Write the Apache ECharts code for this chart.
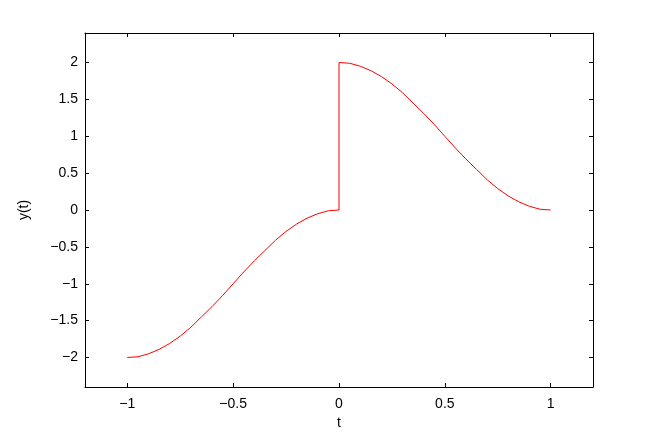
<!DOCTYPE html>
<html>
<head>
<meta charset="utf-8">
<script src="https://cdn.jsdelivr.net/npm/echarts@6/dist/echarts.min.js"></script>
<style>
  html, body { margin: 0; padding: 0; background: #fff; }
  #chart { width: 654px; height: 436px; }
</style>
</head>
<body>
<div id="chart"></div>
<script>
  // values
  var tLeft = [-1, -0.95, -0.9, -0.85, -0.8, -0.75, -0.7, -0.65, -0.6, -0.55, -0.5,
               -0.45, -0.4, -0.35, -0.3, -0.25, -0.2, -0.15, -0.1, -0.05, 0];
  var yLeft = [-2, -1.99, -1.95, -1.89, -1.81, -1.71, -1.59, -1.45, -1.31, -1.16, -1.0,
               -0.84, -0.69, -0.55, -0.41, -0.29, -0.19, -0.11, -0.05, -0.01, 0];
  var tRight = [0, 0.05, 0.1, 0.15, 0.2, 0.25, 0.3, 0.35, 0.4, 0.45, 0.5,
                0.55, 0.6, 0.65, 0.7, 0.75, 0.8, 0.85, 0.9, 0.95, 1];
  var yRight = [2, 1.99, 1.95, 1.89, 1.81, 1.71, 1.59, 1.45, 1.31, 1.16, 1.0,
                0.84, 0.69, 0.55, 0.41, 0.29, 0.19, 0.11, 0.05, 0.01, 0];

  var xTicks = [-1, -0.5, 0, 0.5, 1];
  var yTicks = [-2, -1.5, -1, -0.5, 0, 0.5, 1, 1.5, 2];

  var points = [];
  tLeft.forEach(function (t, i) { points.push([t, yLeft[i]]); });
  tRight.forEach(function (t, i) { points.push([t, yRight[i]]); });

  function fmt(v) {
    return String(v).replace('-', '\u2212');
  }

  var font = 'Liberation Sans';
  var lineStyle = { color: '#000', width: 1 };

  var chart = echarts.init(document.getElementById('chart'));
  chart.setOption({
    animation: false,
    backgroundColor: '#fff',
    grid: { left: 85, right: 61, top: 33, bottom: 49, containLabel: false },
    xAxis: [{
      type: 'value', min: -1.2, max: 1.2,
      customValues: xTicks,
      name: 't', nameLocation: 'middle', nameGap: 29,
      nameTextStyle: { color: '#000', fontSize: 14, fontFamily: font },
      axisLine: { onZero: false, lineStyle: lineStyle },
      axisTick: { inside: true, length: 4, lineStyle: lineStyle, customValues: xTicks },
      axisLabel: { color: '#000', fontSize: 14, fontFamily: font, margin: 10, formatter: fmt, customValues: xTicks },
      splitLine: { show: false }
    }, {
      type: 'value', min: -1.2, max: 1.2, position: 'top',
      axisLine: { onZero: false, lineStyle: lineStyle },
      axisTick: { inside: true, length: 4, lineStyle: lineStyle, customValues: xTicks },
      axisLabel: { show: false },
      splitLine: { show: false }
    }],
    yAxis: [{
      type: 'value', min: -2.4, max: 2.4,
      name: 'y(t)', nameLocation: 'middle', nameGap: 54, nameRotate: 90,
      nameTextStyle: { color: '#000', fontSize: 14, fontFamily: font },
      axisLine: { onZero: false, lineStyle: lineStyle },
      axisTick: { inside: true, length: 4, lineStyle: lineStyle, customValues: yTicks },
      axisLabel: { color: '#000', fontSize: 14, fontFamily: font, margin: 7, formatter: fmt, customValues: yTicks },
      splitLine: { show: false }
    }, {
      type: 'value', min: -2.4, max: 2.4, position: 'right',
      axisLine: { onZero: false, lineStyle: lineStyle },
      axisTick: { inside: true, length: 4, lineStyle: lineStyle, customValues: yTicks },
      axisLabel: { show: false },
      splitLine: { show: false }
    }],
    series: [{
      type: 'line',
      data: points,
      showSymbol: false,
      lineStyle: { color: '#ff0000', width: 1 }
    }]
  });
</script>
</body>
</html>
